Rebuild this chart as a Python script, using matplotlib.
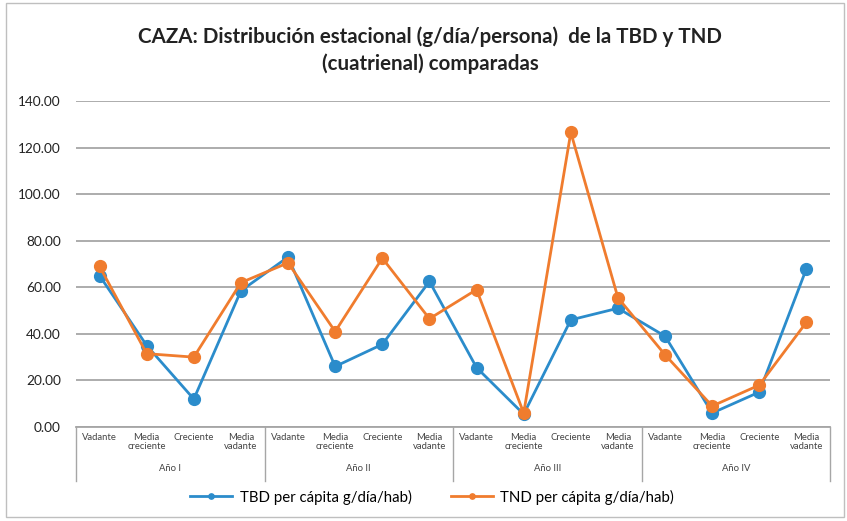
import matplotlib.pyplot as plt
from matplotlib.patches import Rectangle
from matplotlib.lines import Line2D
from matplotlib.transforms import blended_transform_factory

BLUE = "#2B8CCB"
ORANGE = "#F07C2E"
GRID = "#A6A6A6"

years = ["Año I", "Año II", "Año III", "Año IV"]
phases = ["Vadante", "Media\ncreciente", "Creciente", "Media\nvadante"]
tbd = [65.0, 35.0, 12.0, 58.5, 73.0, 26.0, 35.5, 62.5,
       25.5, 5.5, 46.0, 51.0, 39.0, 6.0, 15.0, 68.0]
tnd = [69.0, 31.5, 30.0, 62.0, 70.5, 41.0, 72.5, 46.5,
       59.0, 6.0, 126.5, 55.5, 31.0, 9.0, 18.0, 45.0]

plt.rcParams["font.family"] = ["Lato", "DejaVu Sans"]

fig = plt.figure(figsize=(8.47, 5.21), dpi=100)
ax = fig.add_axes([76 / 847, (521 - 427) / 521, (830 - 76) / 847, (427 - 101) / 521])

x = list(range(len(tbd)))
ax.plot(x, tbd, color=BLUE, marker="o", markersize=8.5, linewidth=2.0,
        label="TBD per cápita g/día/hab)", zorder=3)
ax.plot(x, tnd, color=ORANGE, marker="o", markersize=8.5, linewidth=2.0,
        label="TND per cápita g/día/hab)", zorder=4)

ax.set_xlim(-0.5, len(x) - 0.5)
ax.set_ylim(0, 140)
ax.set_yticks(range(0, 141, 20))
ax.set_yticklabels([f"{v:.2f}" for v in range(0, 141, 20)], fontsize=9.8, color="#222222")
ax.tick_params(axis="y", length=0, pad=11)
ax.set_xticks([])
ax.grid(axis="y", color=GRID, linewidth=1.3)
ax.set_axisbelow(True)
for side in ["top", "right", "left"]:
    ax.spines[side].set_visible(False)
ax.spines["bottom"].set_color(GRID)
ax.spines["bottom"].set_linewidth(1.3)

# two-level category axis
tr = blended_transform_factory(ax.transData, ax.transAxes)
for i in x:
    ax.text(i, -0.017, phases[i % 4], transform=tr, ha="center", va="top",
            fontsize=6.8, color="#444444", linespacing=1.05)
for g, name in enumerate(years):
    ax.text(g * 4 + 1.5, -0.115, name, transform=tr, ha="center", va="top",
            fontsize=6.8, color="#444444")
for b in range(5):
    ax.add_line(Line2D([b * 4 - 0.5, b * 4 - 0.5], [0, -0.165], transform=tr,
                       color=GRID, linewidth=1.0, clip_on=False))

ax.legend(loc="center", bbox_to_anchor=(432 / 847, (521 - 497) / 521),
          bbox_transform=fig.transFigure, ncol=2, frameon=False,
          fontsize=10.8, handlelength=2.8, handletextpad=0.5,
          columnspacing=2.6, markerscale=0.45)

fig.text(0.508, (521 - 37) / 521, "CAZA: Distribución estacional (g/día/persona)  de la TBD y TND",
         ha="center", va="center", fontsize=14.8, fontweight="bold", color="#222222")
fig.text(0.508, (521 - 64) / 521, "(cuatrienal) comparadas",
         ha="center", va="center", fontsize=14.8, fontweight="bold", color="#222222")

fig.patches.append(Rectangle((6 / 847, 4 / 521), 838 / 847, 514 / 521,
                             transform=fig.transFigure, fill=False,
                             edgecolor="#BFBFBF", linewidth=1.0))

fig.savefig("out.png", dpi=100)
